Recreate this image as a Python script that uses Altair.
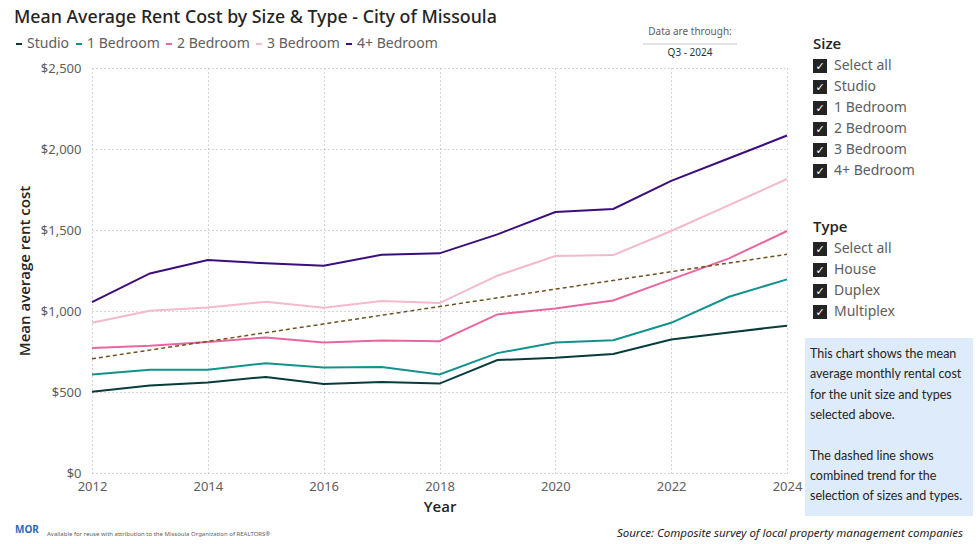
import altair as alt
import pandas as pd

# ---- data -------------------------------------------------------------
years = [2012, 2013, 2014, 2015, 2016, 2017, 2018, 2019, 2020, 2021, 2022, 2023, 2024]

size_names = ["Studio", "1 Bedroom", "2 Bedroom", "3 Bedroom", "4+ Bedroom"]
size_colors = ["#083c3c", "#12928c", "#e8679f", "#f4b8cf", "#3a0e7e"]

studio = [501, 540, 559, 593, 550, 562, 552, 697, 711, 734, 824, 868, 909]
bed1 = [608, 637, 637, 678, 651, 655, 608, 740, 806, 820, 927, 1088, 1195]
bed2 = [771, 785, 808, 837, 806, 818, 814, 979, 1016, 1065, 1195, 1325, 1494]
bed3 = [927, 1001, 1022, 1057, 1020, 1061, 1049, 1218, 1339, 1345, 1494, 1654, 1815]
bed4 = [1055, 1232, 1315, 1294, 1279, 1347, 1356, 1473, 1611, 1630, 1803, 1943, 2083]

# combined trend line (start and end of the fitted line)
trend_years = [2012, 2024]
trend_values = [705, 1350]

year_ticks = [2012, 2014, 2016, 2018, 2020, 2022, 2024]
rent_ticks = [0, 500, 1000, 1500, 2000, 2500]

size_options = ["Select all", "Studio", "1 Bedroom", "2 Bedroom", "3 Bedroom", "4+ Bedroom"]
type_options = ["Select all", "House", "Duplex", "Multiplex"]

note_lines = [
    "This chart shows the mean",
    "average monthly rental cost",
    "for the unit size and types",
    "selected above.",
    "",
    "The dashed line shows",
    "combined trend for the",
    "selection of sizes and types.",
]

# ---- frames -------------------------------------------------------------
rows = []
for name, vals in zip(size_names, [studio, bed1, bed2, bed3, bed4]):
    for y, v in zip(years, vals):
        rows.append({"Year": y, "Rent": v, "Size": name})
df = pd.DataFrame(rows)
trend_df = pd.DataFrame({"Year": trend_years, "Rent": trend_values})

# ---- layout constants (plot origin at 92, 68 in page pixels) -----------
OX, OY = 92, 68
W, H = 695, 405
FONT = "Noto Sans"
TFONT = "Open Sans"
DARK = "#252423"
GREY = "#605E5C"
one = pd.DataFrame({"k": [0]})


def px(x):
    return x - OX


def py(y):
    return y - OY


def label(text, x, y, size=13, color=DARK, align="left", weight="normal",
          style="normal", font=FONT, baseline="middle"):
    return alt.Chart(one).mark_text(
        text=text, align=align, baseline=baseline, fontSize=size, color=color,
        fontWeight=weight, fontStyle=style, font=font,
    ).encode(x=alt.value(px(x)), y=alt.value(py(y)))


def box(x1, y1, x2, y2, color):
    return alt.Chart(one).mark_rect(color=color).encode(
        x=alt.value(px(x1)), x2=alt.value(px(x2)),
        y=alt.value(py(y1)), y2=alt.value(py(y2)),
    )


def hline(x1, x2, y, color):
    return alt.Chart(one).mark_rule(color=color, strokeWidth=1).encode(
        x=alt.value(px(x1)), x2=alt.value(px(x2)), y=alt.value(py(y))
    )


# ---- main chart ---------------------------------------------------------
x_enc = alt.X(
    "Year:Q",
    scale=alt.Scale(domain=[2012, 2024], nice=False, zero=False),
    axis=alt.Axis(
        values=year_ticks, format="d", title="Year", domain=False, ticks=False,
        labelFontSize=13, labelColor=GREY, labelFont=FONT, labelPadding=7,
        titleFontSize=15, titleColor=DARK, titleFont=TFONT, titleFontWeight=600,
        titlePadding=6, grid=True, gridDash=[1, 3], gridColor="#b0aeac",
        labelFlush=False,
    ),
)
y_enc = alt.Y(
    "Rent:Q",
    scale=alt.Scale(domain=[0, 2500], nice=False),
    axis=alt.Axis(
        values=rent_ticks, format="$,.0f", title="Mean average rent cost",
        domain=False, ticks=False, labelFontSize=13, labelColor=GREY,
        labelFont=FONT, labelPadding=11, titleFontSize=15, titleColor=DARK,
        titleFont=TFONT, titleFontWeight=600, titlePadding=8, grid=True,
        gridDash=[1, 3], gridColor="#b0aeac",
    ),
)

lines = alt.Chart(df).mark_line(strokeWidth=2).encode(
    x=x_enc,
    y=y_enc,
    color=alt.Color(
        "Size:N",
        scale=alt.Scale(domain=size_names, range=size_colors),
        sort=size_names,
        legend=alt.Legend(
            orient="none", legendX=-80, legendY=-31, direction="horizontal",
            title=None, symbolType="stroke", symbolStrokeWidth=2, symbolSize=36,
            labelFontSize=14, labelColor=GREY, labelFont=FONT, labelOffset=1,
            columnPadding=2, padding=0, columns=5,
        ),
    ),
)

trend = alt.Chart(trend_df).mark_line(
    strokeWidth=1.5, strokeDash=[4, 3], color="#6e5220"
).encode(x="Year:Q", y="Rent:Q")

layers = [lines, trend]

# title
layers.append(label("Mean Average Rent Cost by Size & Type - City of Missoula",
                    14, 18, size=17.8, color=DARK, weight=500))

# "data are through" stamp
layers.append(label("Data are through:", 690, 32, size=10, color=GREY, align="center"))
layers.append(hline(643, 737, 44, "#c8c6c4"))
layers.append(label("Q3 - 2024", 690, 53, size=10, color="#1f3a3a", align="center"))


# slicers
def slicer(heading, options, y0):
    out = [label(heading, 813, y0, size=15, color=DARK, weight=600, font=TFONT)]
    for i, opt in enumerate(options):
        yc = y0 + 22 + 21 * i
        out.append(box(813, yc - 7, 827, yc + 7, "#252423"))
        out.append(label("\u2713", 820, yc + 1, size=11, color="white",
                         align="center", font="DejaVu Sans"))
        out.append(label(opt, 834, yc, size=14, color=GREY))
    return out


layers += slicer("Size", size_options, 44)
layers += slicer("Type", type_options, 227)

# explanatory note
layers.append(box(805, 338, 973, 516, "#deebfa"))
for i, line in enumerate(note_lines):
    if line:
        layers.append(label(line, 810, 354 + 20.3 * i, size=12.5, color=DARK, font="Lato"))

# footer
layers.append(label("MOR", 15, 530, size=10, color="#2a6cb8", weight="bold"))
layers.append(label("Available for reuse with attribution to the Missoula Organization of REALTORS\u00ae",
                    47, 534, size=6, color=GREY))
layers.append(label("Source: Composite survey of local property management companies",
                    963, 534, size=11.5, color=DARK, align="right", style="italic"))

chart = alt.layer(*layers).properties(
    width=W,
    height=H,
    padding={"left": OX, "top": OY, "right": 980 - OX - W, "bottom": 544 - OY - H},
    autosize=alt.AutoSizeParams(type="none"),
    background="white",
).configure_view(stroke=None)

chart.save("out.html", embed_options={"renderer": "svg", "actions": False})
